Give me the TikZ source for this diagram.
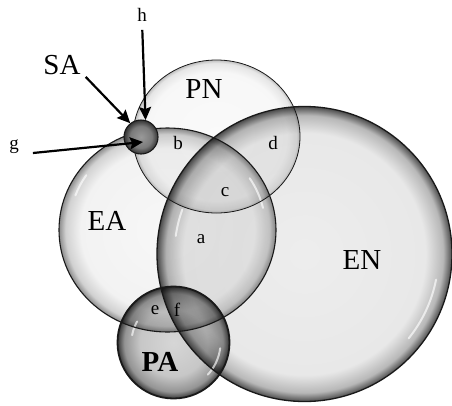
\documentclass[tikz,border=0pt]{standalone}
\usepackage{fontspec}
\setmainfont{Liberation Serif}
\usepackage{tikz}
\usetikzlibrary{arrows.meta}

% glassy bubbles: light inside, darker towards the rim
\pgfdeclareradialshading{enball}{\pgfpoint{0bp}{0bp}}{color(0bp)=(black!7); color(20.5bp)=(black!9); color(23.5bp)=(black!28); color(25bp)=(black!70); color(50bp)=(black!70)}
\pgfdeclareradialshading{eaball}{\pgfpoint{0bp}{0bp}}{color(0bp)=(black!3); color(20bp)=(black!5); color(23.5bp)=(black!18); color(25bp)=(black!45); color(50bp)=(black!45)}
\pgfdeclareradialshading{pnball}{\pgfpoint{0bp}{0bp}}{color(0bp)=(black!2); color(21bp)=(black!3); color(24bp)=(black!10); color(25bp)=(black!25); color(50bp)=(black!25)}
\pgfdeclareradialshading{paball}{\pgfpoint{0bp}{0bp}}{color(0bp)=(black!16); color(15bp)=(black!22); color(22bp)=(black!42); color(25bp)=(black!78); color(50bp)=(black!78)}
\pgfdeclareradialshading{saball}{\pgfpoint{0bp}{0bp}}{color(0bp)=(black!40); color(16bp)=(black!52); color(25bp)=(black!80); color(50bp)=(black!80)}

\tikzset{
  rim/.style={draw=black!90, line width=1.1pt},
  gleam/.style={white, line width=2pt, line cap=round, opacity=0.65},
  setlabel/.style={font=\fontsize{29}{31}\selectfont, inner sep=0pt},
  partlabel/.style={font=\fontsize{19}{21}\selectfont, inner sep=0pt},
  pointer/.style={-{Stealth[length=13pt,width=12pt,inset=2pt]}, line width=2.2pt}
}

\begin{document}
\begin{tikzpicture}[x=1pt, y=-1pt]
  \useasboundingbox[fill=white] (0,0) rectangle (452,405);
  % the four big sets, multiplied so overlaps darken
  \begin{scope}[blend group=multiply]
    \shade[shading=enball] (304.5,254) circle [radius=147.5];
    \shade[shading=eaball] (167.5,230) ellipse [x radius=108.5, y radius=102];
    \shade[shading=pnball] (216.5,136.5) ellipse [x radius=83.5, y radius=76.5];
    \shade[shading=paball] (173.5,342.5) circle [radius=56];
  \end{scope}
  % reflections
  \draw[gleam] (304.5,254) ++(11:134) arc [start angle=11, end angle=39, radius=134];
  \draw[gleam] (304.5,254) ++(-160:130) arc [start angle=-160, end angle=-172, radius=130];
  \draw[gleam] (167.5,230) ++(-13:98) arc [start angle=-13, end angle=-33, x radius=98, y radius=93];
  \draw[gleam] (167.5,230) ++(-146:98) arc [start angle=-146, end angle=-160, x radius=98, y radius=93];
  \draw[gleam] (173.5,342.5) ++(-150:42) arc [start angle=-150, end angle=-170, radius=42];
  \draw[gleam] (173.5,342.5) ++(7:47) arc [start angle=7, end angle=43, radius=47];
  % outlines
  \draw[rim, line width=1.3pt] (304.5,254) circle [radius=147.5];
  \draw[rim] (167.5,230) ellipse [x radius=108.5, y radius=102];
  \draw[rim, line width=0.8pt] (216.5,136.5) ellipse [x radius=83.5, y radius=76.5];
  \draw[rim, line width=1.8pt] (173.5,342.5) circle [radius=56];
  % the small set
  \node[circle, minimum size=34pt, inner sep=0pt, shading=saball, rim] (sa) at (141,137) {};
  % set names
  \node[setlabel] (EN) at (362,260) {EN};
  \node[setlabel] (EA) at (107,221) {EA};
  \node[setlabel] (PN) at (204,89) {PN};
  \node[setlabel, font=\fontsize{29}{31}\selectfont\bfseries] (PA) at (160,362) {PA};
  \node[setlabel] (SAlbl) at (62,65) {SA};
  % regions
  \node[partlabel] (a) at (201,239) {a};
  \node[partlabel] (b) at (178,143) {b};
  \node[partlabel] (c) at (225,192) {c};
  \node[partlabel] (d) at (273,143) {d};
  \node[partlabel] (e) at (155,310) {e};
  \node[partlabel] (f) at (177,310) {f};
  \node[partlabel] (g) at (14,147) {g};
  \node[partlabel] (h) at (142,15) {h};
  % pointers onto SA
  \coordinate (gtip) at (143,142);
  \draw[pointer] (SAlbl.south east) ++(5,2) -- (sa.128);
  \draw[pointer, shorten <=8pt] (h.south) -- (sa.75);
  \draw[pointer] ([xshift=14pt, yshift=-6pt]g.east) -- (gtip);
\end{tikzpicture}
\end{document}
